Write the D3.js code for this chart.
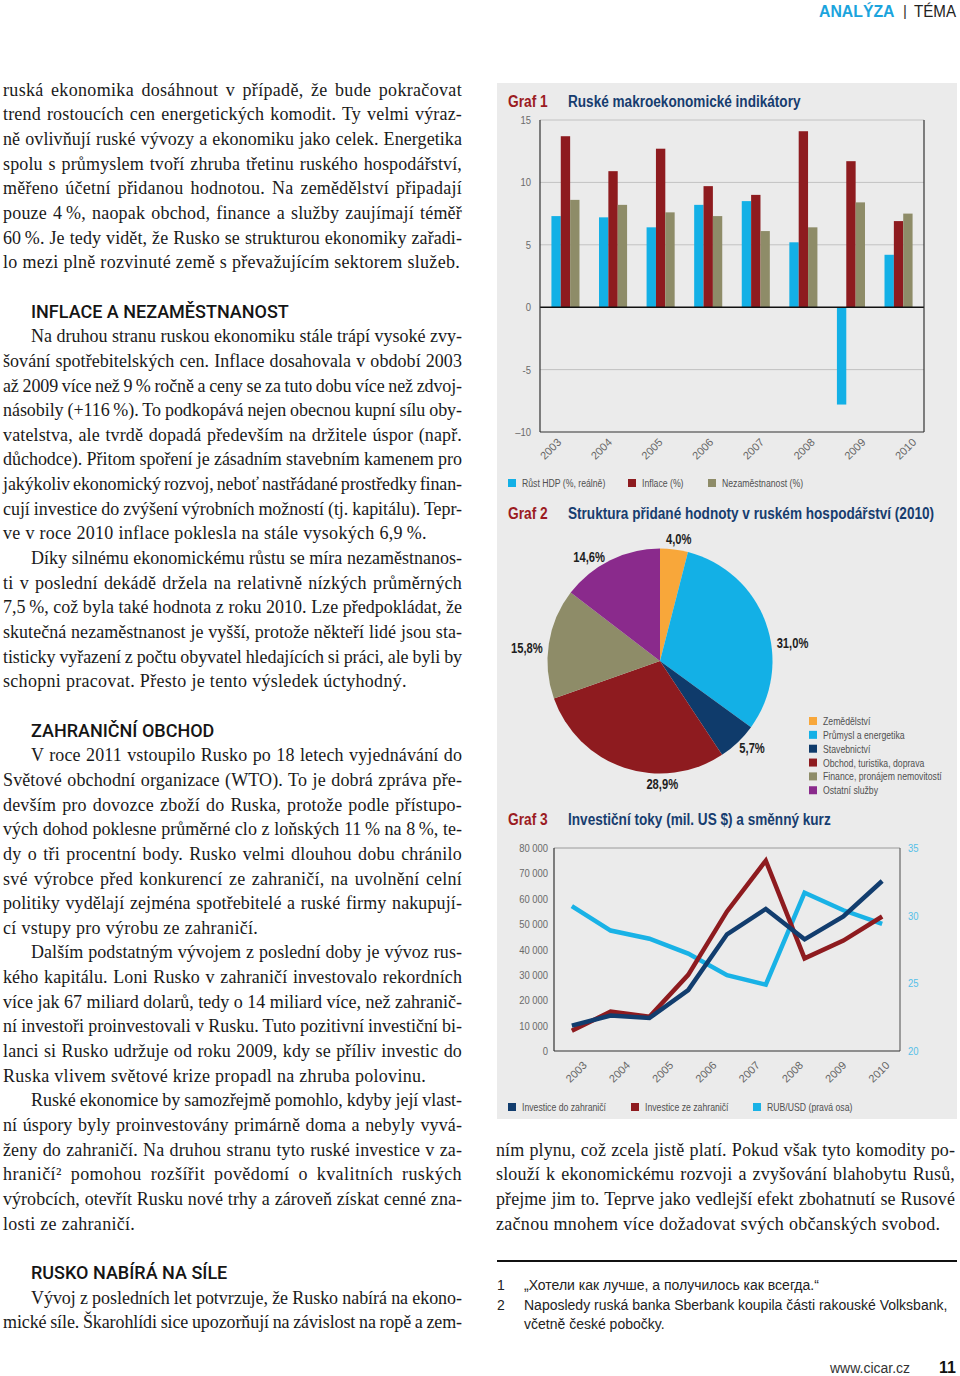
<!DOCTYPE html>
<html><head><meta charset="utf-8">
<script src="https://cdn.jsdelivr.net/npm/d3@7"></script>
<style>
html,body{margin:0;padding:0;background:#fff;}
body{width:960px;height:1376px;position:relative;overflow:hidden;}
svg{position:absolute;left:0;top:0;}
</style></head><body>
<script>
// ---------------- DATA ----------------
const years = ["2003","2004","2005","2006","2007","2008","2009","2010"];
const gdpGrowth = [7.3, 7.2, 6.4, 8.2, 8.5, 5.2, -7.8, 4.2];
const inflation = [13.7, 10.9, 12.7, 9.7, 9.0, 14.1, 11.7, 6.9];
const unemployment = [8.6, 8.2, 7.6, 7.3, 6.1, 6.4, 8.4, 7.5];
const chart1Legend = ["Růst HDP (%, reálně)", "Inflace (%)", "Nezaměstnanost (%)"];
const chart1Ticks = [15, 10, 5, 0, -5, -10];
const chart1TickLabels = ["15", "10", "5", "0", "-5", "–10"];

const sectors = ["Zemědělství", "Průmysl a energetika", "Stavebnictví", "Obchod, turistika, doprava", "Finance, pronájem nemovitostí", "Ostatní služby"];
const sectorShares = [4.0, 31.0, 5.7, 28.9, 15.8, 14.6];

const flowPeriods = ["2003","2004","2005","2006","2007","2008","2009","2010","2011"];
const investAbroad = [10000, 14000, 13000, 24000, 46000, 56000, 44000, 53000, 67000];
const investIn = [8000, 15500, 13500, 30000, 55000, 75000, 36500, 43500, 53000];
const rubUsd = [30.7, 28.9, 28.3, 27.2, 25.6, 24.9, 31.7, 30.4, 29.4];
const chart3Legend = ["Investice do zahraničí", "Investice ze zahraničí", "RUB/USD (pravá osa)"];
const chart3LeftTicks = [0, 10000, 20000, 30000, 40000, 50000, 60000, 70000, 80000];
const chart3RightTicks = [20, 25, 30, 35];

const chartTitles = ["Ruské makroekonomické indikátory", "Struktura přidané hodnoty v ruském hospodářství (2010)", "Investiční toky (mil. US $) a směnný kurz"];

// ---------------- TEXT ----------------
const introLines = [
 "ruská ekonomika dosáhnout v případě, že bude pokračovat",
 "trend rostoucích cen energetických komodit. Ty velmi výraz-",
 "ně ovlivňují ruské vývozy a ekonomiku jako celek. Energetika",
 "spolu s průmyslem tvoří zhruba třetinu ruského hospodářství,",
 "měřeno účetní přidanou hodnotou. Na zemědělství připadají",
 "pouze 4\u2009%, naopak obchod, finance a služby zaujímají téměř",
 "60\u2009%. Je tedy vidět, že Rusko se strukturou ekonomiky zařadi-",
 "lo mezi plně rozvinuté země s převažujícím sektorem služeb."];
const inflationLinesA = [
 "Na druhou stranu ruskou ekonomiku stále trápí vysoké zvy-",
 "šování spotřebitelských cen. Inflace dosahovala v období 2003",
 "až 2009 více než 9\u2009% ročně a ceny se za tuto dobu více než zdvoj-",
 "násobily (+116\u2009%). To podkopává nejen obecnou kupní sílu oby-",
 "vatelstva, ale tvrdě dopadá především na držitele úspor (např.",
 "důchodce). Přitom spoření je zásadním stavebním kamenem pro",
 "jakýkoliv ekonomický rozvoj, neboť nastřádané prostředky finan-",
 "cují investice do zvýšení výrobních možností (tj. kapitálu). Tepr-",
 "ve v roce 2010 inflace poklesla na stále vysokých 6,9\u2009%."];
const inflationLinesB = [
 "Díky silnému ekonomickému růstu se míra nezaměstnanos-",
 "ti v poslední dekádě držela na relativně nízkých průměrných",
 "7,5\u2009%, což byla také hodnota z roku 2010. Lze předpokládat, že",
 "skutečná nezaměstnanost je vyšší, protože někteří lidé jsou sta-",
 "tisticky vyřazení z počtu obyvatel hledajících si práci, ale byli by",
 "schopni pracovat. Přesto je tento výsledek úctyhodný."];
const tradeLinesA = [
 "V roce 2011 vstoupilo Rusko po 18 letech vyjednávání do",
 "Světové obchodní organizace (WTO). To je dobrá zpráva pře-",
 "devším pro dovozce zboží do Ruska, protože podle přístupo-",
 "vých dohod poklesne průměrné clo z loňských 11\u2009% na 8\u2009%, te-",
 "dy o tři procentní body. Rusko velmi dlouhou dobu chránilo",
 "své výrobce před konkurencí ze zahraničí, na uvolnění celní",
 "politiky vydělají zejména spotřebitelé a ruské firmy nakupují-",
 "cí vstupy pro výrobu ze zahraničí."];
const tradeLinesB = [
 "Dalším podstatným vývojem z poslední doby je vývoz rus-",
 "kého kapitálu. Loni Rusko v zahraničí investovalo rekordních",
 "více jak 67 miliard dolarů, tedy o 14 miliard více, než zahranič-",
 "ní investoři proinvestovali v Rusku. Tuto pozitivní investiční bi-",
 "lanci si Rusko udržuje od roku 2009, kdy se příliv investic do",
 "Ruska vlivem světové krize propadl na zhruba polovinu."];
const tradeLinesC = [
 "Ruské ekonomice by samozřejmě pomohlo, kdyby její vlast-",
 "ní úspory byly proinvestovány primárně doma a nebyly vyvá-",
 "ženy do zahraničí. Na druhou stranu tyto ruské investice v za-",
 "hraničí² pomohou rozšířit povědomí o kvalitních ruských",
 "výrobcích, otevřít Rusku nové trhy a zároveň získat cenné zna-",
 "losti ze zahraničí."];
const strengthLines = [
 "Vývoj z posledních let potvrzuje, že Rusko nabírá na ekono-",
 "mické síle. Škarohlídi sice upozorňují na závislost na ropě a zem-"];
const rightLines = [
 "ním plynu, což zcela jistě platí. Pokud však tyto komodity po-",
 "slouží k ekonomickému rozvoji a zvyšování blahobytu Rusů,",
 "přejme jim to. Teprve jako vedlejší efekt zbohatnutí se Rusové",
 "začnou mnohem více dožadovat svých občanských svobod."];
const headings = ["INFLACE A NEZAMĚSTNANOST", "ZAHRANIČNÍ OBCHOD", "RUSKO NABÍRÁ NA SÍLE"];
const footnotes = [
 ["1", "„Хотели как лучше, а получилось как всегда.“"],
 ["2", "Naposledy ruská banka Sberbank koupila části rakouské Volksbank,"],
 ["", "včetně české pobočky."]];

// ---------------- DRAW ----------------
const svg = d3.select("body").append("svg").attr("width", 960).attr("height", 1376);
const SANS = '"Liberation Sans", Arial, sans-serif';
const SERIF = '"Liberation Serif", "Times New Roman", serif';

// horizontal compression via transform (keeps real bounding boxes)
function condense(sel, f) {
  sel.each(function () {
    const x = +this.getAttribute("x") || 0, y = +this.getAttribute("y") || 0;
    d3.select(this).attr("x", 0).attr("y", 0).attr("transform", `translate(${x},${y}) scale(${f},1)`);
  });
}

// header
svg.append("text").attr("x", 819).attr("y", 17).text("ANALÝZA")
  .style("font-family", SANS).style("font-weight", "bold").style("font-size", "17px").attr("fill", "#1ba4dd").call(condense, 0.93);
svg.append("text").attr("x", 903).attr("y", 16).text("|")
  .style("font-family", SANS).style("font-size", "15px").attr("fill", "#333");
svg.append("text").attr("x", 914).attr("y", 17).text("TÉMA")
  .style("font-family", SANS).style("font-size", "17px").attr("fill", "#222").call(condense, 0.89);

// body text
const LINE0 = 95.7, LH = 24.65, COLW = 459, INDENT = 28;
function bodyLine(x, k, text, indent, justify) {
  const t = svg.append("text").attr("x", x + indent).attr("y", LINE0 + LH * k)
    .style("font-family", SERIF).style("font-size", "18px").attr("fill", "#1a1a1a").text(text);
  const w = t.node().getComputedTextLength();
  const nChars = text.length;
  const target = COLW - indent;
  if (justify) {
    const n = (text.match(/ /g) || []).length;
    const extra = target - w;
    let ls = Math.max(-0.35, Math.min(0.45, extra * 0.5 / nChars));
    const ws = n > 0 ? (extra - ls * nChars) / n : 0;
    t.style("letter-spacing", ls + "px").style("word-spacing", ws + "px");
  } else {
    t.style("letter-spacing", "0.3px");
  }
}
function para(x, k, lines, indent, ends) {
  lines.forEach((l, i) => bodyLine(x, k + i, l, (i === 0 && indent) ? INDENT : 0, !(ends && i === lines.length - 1)));
  return k + lines.length;
}
function heading(x, k, text) {
  svg.append("text").attr("x", x + INDENT).attr("y", LINE0 + LH * k)
    .style("font-family", 'Roboto, "Liberation Sans", sans-serif').style("font-weight", "500")
    .style("font-size", "18px").attr("fill", "#151515").text(text);
  return k + 1;
}
let k = 0;
k = para(3, k, introLines, false, true);
k += 1; k = heading(3, k, headings[0]);
k = para(3, k, inflationLinesA, true, true);
k = para(3, k, inflationLinesB, true, true);
k += 1; k = heading(3, k, headings[1]);
k = para(3, k, tradeLinesA, true, true);
k = para(3, k, tradeLinesB, true, true);
k = para(3, k, tradeLinesC, true, true);
k += 1; k = heading(3, k, headings[2]);
k = para(3, k, strengthLines, true, false);
para(496, 43, rightLines, false, true);

// ---------------- CHART PANEL ----------------
svg.append("rect").attr("x", 497).attr("y", 83).attr("width", 460).attr("height", 1036).attr("fill", "#ebebeb");

function chartTitle(y, num, txt) {
  svg.append("text").attr("x", 508).attr("y", y).text("Graf " + num)
    .style("font-family", SANS).style("font-weight", "bold").style("font-size", "17px").attr("fill", "#9b1b22").call(condense, 0.81);
  svg.append("text").attr("x", 568).attr("y", y).text(txt)
    .style("font-family", SANS).style("font-weight", "bold").style("font-size", "17px").attr("fill", "#173d6f").call(condense, 0.8);
}
function legendItem(x, y, color, label) {
  svg.append("rect").attr("x", x).attr("y", y - 8).attr("width", 8).attr("height", 8).attr("fill", color);
  svg.append("text").attr("x", x + 14).attr("y", y).text(label)
    .style("font-family", SANS).style("font-size", "11px").attr("fill", "#505050").call(condense, 0.79);
}

// ---- Chart 1 ----
chartTitle(107, 1, chartTitles[0]);
const c1colors = ["#13b0e6", "#8e1b1f", "#8e8c68"];
const y1 = d3.scaleLinear().domain([-10, 15]).range([432, 120]);
const x0 = d3.scaleBand().domain(years).range([540, 924]).paddingInner(0.41).paddingOuter(0.24);
const x1 = d3.scaleBand().domain([0, 1, 2]).range([0, x0.bandwidth()]);
const c1 = svg.append("g");
c1.selectAll("line.grid").data(chart1Ticks.filter(t => t !== 0 && t !== -10)).enter().append("line")
  .attr("x1", 540).attr("x2", 924).attr("y1", d => y1(d)).attr("y2", d => y1(d)).attr("stroke", "#c2c2c2").attr("stroke-width", 1);
const series1 = [gdpGrowth, inflation, unemployment];
years.forEach((yr, i) => {
  series1.forEach((s, j) => {
    const v = s[i];
    c1.append("rect").attr("x", x0(yr) + x1(j)).attr("width", x1.bandwidth())
      .attr("y", y1(Math.max(0, v))).attr("height", Math.abs(y1(v) - y1(0))).attr("fill", c1colors[j]);
  });
});
c1.append("line").attr("x1", 540).attr("x2", 924).attr("y1", y1(0)).attr("y2", y1(0)).attr("stroke", "#111").attr("stroke-width", 1.5);
c1.append("line").attr("x1", 540).attr("x2", 924).attr("y1", y1(-10)).attr("y2", y1(-10)).attr("stroke", "#333").attr("stroke-width", 1.2);
c1.append("line").attr("x1", 540).attr("x2", 540).attr("y1", y1(15)).attr("y2", y1(-10)).attr("stroke", "#333").attr("stroke-width", 1.2);
c1.append("line").attr("x1", 924).attr("x2", 924).attr("y1", y1(15)).attr("y2", y1(-10)).attr("stroke", "#333").attr("stroke-width", 1.2);
chart1Ticks.forEach((t, i) => {
  c1.append("text").attr("x", 531).attr("y", y1(t) + 4).attr("text-anchor", "end").text(chart1TickLabels[i])
    .style("font-family", SANS).style("font-size", "10.5px").attr("fill", "#6a6a6a").call(condense, 0.9);
});
const x1lab = d3.scalePoint().domain(years).range([562, 917]);
years.forEach(yr => {
  c1.append("text").attr("text-anchor", "end").attr("transform", `translate(${x1lab(yr)},443) rotate(-45)`).text(yr)
    .style("font-family", SANS).style("font-size", "11px").attr("fill", "#666");
});
legendItem(508, 487, c1colors[0], chart1Legend[0]);
legendItem(628, 487, c1colors[1], chart1Legend[1]);
legendItem(708, 487, c1colors[2], chart1Legend[2]);

// ---- Chart 2 ----
chartTitle(519, 2, chartTitles[1]);
const sectorColors = ["#f8a73a", "#13b0e6", "#0f3b6b", "#8e1b1f", "#8e8c68", "#8a2a8c"];
const pie = d3.pie().sort(null).value(d => d);
const arcs = pie(sectorShares);
const R = 112.5;
const arcGen = d3.arc().innerRadius(0).outerRadius(R);
const g2 = svg.append("g").attr("transform", "translate(660,661)");
g2.selectAll("path").data(arcs).enter().append("path").attr("d", arcGen).attr("fill", (d, i) => sectorColors[i]);
const labelNudge = [1, 11.5, -1, -19.5, -3, -5.7];
const fmt1 = v => d3.format(".1f")(v).replace(".", ",") + "%";
arcs.forEach((a, i) => {
  const ang = (a.startAngle + a.endAngle) / 2 + labelNudge[i] * Math.PI / 180;
  const t = g2.append("text").text(fmt1(sectorShares[i])).attr("text-anchor", "middle")
    .style("font-family", SANS).style("font-weight", "bold").style("font-size", "14px").attr("fill", "#1e1e1e");
  const w = t.node().getComputedTextLength() * 0.8;
  const h = 10;
  const cx = 118 * Math.sin(ang) + (w / 2) * Math.sin(ang);
  const cy = -118 * Math.cos(ang) - (h / 2) * Math.cos(ang);
  t.attr("x", cx).attr("y", cy + h / 2).call(condense, 0.8);
});
sectors.forEach((s, i) => legendItem(809, 725 + i * 13.85, sectorColors[i], s));

// ---- Chart 3 ----
chartTitle(825, 3, chartTitles[2]);
const yL = d3.scaleLinear().domain([0, 80000]).range([1051, 848]);
const yR = d3.scaleLinear().domain([20, 35]).range([1051, 848]);
const xP = d3.scalePoint().domain(flowPeriods).range([554, 900]).padding(0.46);
const xB = d3.scaleBand().domain(years).range([554, 900]);
const c3 = svg.append("g");
c3.append("line").attr("x1", 554).attr("x2", 900).attr("y1", yL(80000)).attr("y2", yL(80000)).attr("stroke", "#9a9a9a").attr("stroke-width", 1);
c3.append("line").attr("x1", 900).attr("x2", 900).attr("y1", yL(80000)).attr("y2", yL(0)).attr("stroke", "#666").attr("stroke-width", 1.2);
c3.append("line").attr("x1", 554).attr("x2", 554).attr("y1", yL(80000)).attr("y2", yL(0)).attr("stroke", "#333").attr("stroke-width", 1.2);
c3.append("line").attr("x1", 554).attr("x2", 900).attr("y1", yL(0)).attr("y2", yL(0)).attr("stroke", "#333").attr("stroke-width", 1.2);
const fmtK = v => d3.format(",")(v).replace(/,/g, " ");
chart3LeftTicks.forEach(t => {
  c3.append("text").attr("x", 548).attr("y", yL(t) + 4).attr("text-anchor", "end").text(fmtK(t))
    .style("font-family", SANS).style("font-size", "10.5px").attr("fill", "#6a6a6a").call(condense, 0.9);
});
chart3RightTicks.forEach(t => {
  c3.append("text").attr("x", 908).attr("y", yR(t) + 4).text(String(t))
    .style("font-family", SANS).style("font-size", "10.5px").attr("fill", "#55c0e8").call(condense, 0.9);
});
const lineL = d3.line().x((d, i) => xP(flowPeriods[i])).y(d => yL(d));
const lineR = d3.line().x((d, i) => xP(flowPeriods[i])).y(d => yR(d));
const c3colors = ["#123d6e", "#8e1b1f", "#19b2e6"];
c3.append("path").attr("d", lineR(rubUsd)).attr("fill", "none").attr("stroke", c3colors[2]).attr("stroke-width", 4.5).attr("stroke-linejoin", "miter");
c3.append("path").attr("d", lineL(investIn)).attr("fill", "none").attr("stroke", c3colors[1]).attr("stroke-width", 4.5).attr("stroke-linejoin", "miter");
c3.append("path").attr("d", lineL(investAbroad)).attr("fill", "none").attr("stroke", c3colors[0]).attr("stroke-width", 4.5).attr("stroke-linejoin", "miter");
years.forEach(yr => {
  c3.append("text").attr("text-anchor", "end").attr("transform", `translate(${xB(yr) + xB.bandwidth() / 2 + 12},1066) rotate(-45)`).text(yr)
    .style("font-family", SANS).style("font-size", "11px").attr("fill", "#666");
});
legendItem(508, 1111, c3colors[0], chart3Legend[0]);
legendItem(631, 1111, c3colors[1], chart3Legend[1]);
legendItem(753, 1111, c3colors[2], chart3Legend[2]);

// ---------------- FOOTNOTES / FOOTER ----------------
svg.append("line").attr("x1", 497).attr("x2", 957).attr("y1", 1261).attr("y2", 1261).attr("stroke", "#111").attr("stroke-width", 2);
footnotes.forEach((f, i) => {
  const y = 1290 + i * 19.5;
  svg.append("text").attr("x", 497).attr("y", y).text(f[0]).style("font-family", SANS).style("font-size", "14px").attr("fill", "#222");
  svg.append("text").attr("x", 524).attr("y", y).text(f[1]).style("font-family", SANS).style("font-size", "14px").attr("fill", "#222");
});
svg.append("text").attr("x", 830).attr("y", 1373).text("www.cicar.cz").style("font-family", SANS).style("font-size", "14px").attr("fill", "#333");
svg.append("text").attr("x", 939).attr("y", 1373).text("11").style("font-family", SANS).style("font-weight", "bold").style("font-size", "16px").attr("fill", "#111");
</script>
</body></html>
